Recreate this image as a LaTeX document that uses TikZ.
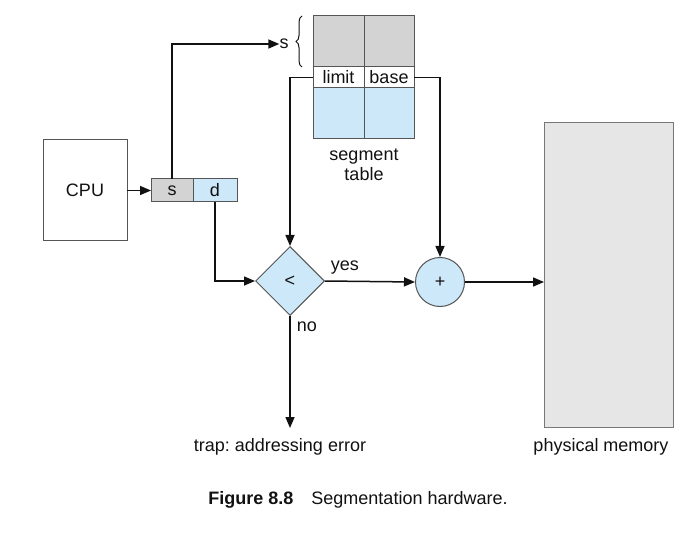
\documentclass[tikz,border=0pt]{standalone}
\usepackage{fontspec}
\setmainfont{Liberation Sans}
\usetikzlibrary{arrows.meta,shapes.geometric,decorations.pathreplacing}
\definecolor{cellgray}{HTML}{D3D3D3}
\definecolor{cellblue}{HTML}{CDE8F8}
\definecolor{memfill}{HTML}{E6E6E6}
\definecolor{edge}{HTML}{555555}
\definecolor{ink}{HTML}{111111}
\tikzset{
  lbl/.style={text=ink, inner sep=0pt},
  cell/.style={draw=edge, line width=1pt, inner sep=0pt, outer sep=0pt, anchor=north west, text=ink},
  conn/.style={draw=ink, line width=1.5pt, -{Triangle[length=11pt,width=9pt]}},
}
\begin{document}
\frenchspacing
\begin{tikzpicture}[x=1pt,y=-1pt,font=\fontsize{18}{20}\selectfont]
\useasboundingbox (0,0) rectangle (700,534);

% CPU and logical address register
\node[cell, minimum width=84pt, minimum height=101pt] (cpu) at (43,140) {CPU};
\node[cell, fill=cellgray, minimum width=42pt, minimum height=23pt] (sreg) at (151,179) {s};
\node[cell, fill=cellblue, minimum width=44pt, minimum height=23pt] (dreg) at (193,179) {d};

% segment table
\node[cell, fill=cellgray, minimum width=51pt, minimum height=51pt] (g1) at (313,16) {};
\node[cell, fill=cellgray, minimum width=50pt, minimum height=51pt] (g2) at (364,16) {};
\node[cell, fill=white, minimum width=51pt, minimum height=21pt] (lim) at (313,67) {limit};
\node[cell, fill=white, minimum width=50pt, minimum height=21pt] (bas) at (364,67) {base};
\node[cell, fill=cellblue, minimum width=51pt, minimum height=51pt] (b1) at (313,88) {};
\node[cell, fill=cellblue, minimum width=50pt, minimum height=51pt] (b2) at (364,88) {};
\node[lbl, align=center] (segt) at (364,165) {segment\\table};

% segment index selector
\node[lbl] (sl) at (284,44) {s};
\draw[ink, line width=1pt, decorate, decoration={brace, amplitude=6pt}]
  (302,67) -- (302,16);

% comparator and adder
\node[diamond, draw=edge, line width=1pt, fill=cellblue, aspect=1,
      minimum size=69pt, inner sep=0pt, text=ink] (dia) at (290,281) {<};
\node[circle, draw=edge, line width=1pt, fill=cellblue, minimum size=49pt,
      inner sep=0pt, text=ink] (plus) at (440,282) {+};

% physical memory
\node[cell, fill=memfill, draw=edge!80, minimum width=129pt, minimum height=304pt] (mem) at (544,123) {};
\node[lbl] (pm) at (601,447) {physical memory};

% trap
\node[lbl] (trap) at (280,447) {trap: addressing error};
\coordinate (trapin) at (290,428);

% connectors
\draw[conn] (cpu.east) -- (sreg.west);
\draw[conn] (sreg.north) |- (sl.west);
\draw[conn] (dreg.south) |- (dia.west);
\draw[conn] (lim.west) -| (dia.north);
\draw[conn] (bas.east) -| (plus.north);
\draw[conn] (dia.east) -- node[lbl, pos=0.22, above=6pt] (yes) {yes} (plus.west);
\draw[conn] (plus.east) -- (mem.west |- plus.east);
\draw[conn] (dia.south) -- node[lbl, pos=0.10, right=6pt] (no) {no} (trapin);

% caption
\node[lbl] (cap) at (358,500) {\textbf{Figure 8.8}\quad Segmentation hardware.};
\end{tikzpicture}
\end{document}
